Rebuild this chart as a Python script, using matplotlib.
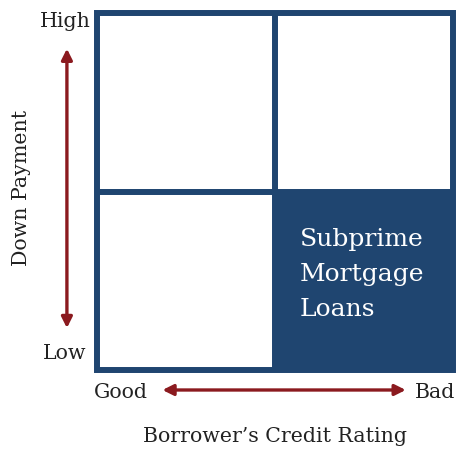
import matplotlib
matplotlib.use("Agg")
import matplotlib.pyplot as plt
from matplotlib.patches import Rectangle

# quadrant data
col_labels = ["Good", "Bad"]
row_labels = ["Low", "High"]
x_title = "Borrower\u2019s Credit Rating"
y_title = "Down Payment"
highlight_cell = (1, 0)  # (column, row)
highlight_text = "Subprime\nMortgage\nLoans"

blue = "#1f4570"
red = "#8b1a1f"
ink = "#222222"
plt.rcParams["font.family"] = ["DejaVu Serif"]

fig = plt.figure(figsize=(4.59, 4.51), dpi=100)
# axes box in figure fraction (line centres of the outer border)
ax = fig.add_axes([96.5 / 459, 1 - 370 / 451, 356.5 / 459, 357 / 451])
ax.set_xlim(0, len(col_labels))
ax.set_ylim(0, len(row_labels))
ax.axis("off")

lw = 4.3
cx, cy = highlight_cell
ax.add_patch(Rectangle((cx, cy), 1, 1, facecolor=blue, edgecolor="none"))
ax.add_patch(Rectangle((0, 0), len(col_labels), len(row_labels), fill=False,
                       edgecolor=blue, linewidth=lw, clip_on=False))
for i in range(1, len(col_labels)):
    ax.plot([i, i], [0, len(row_labels)], color=blue, lw=lw, solid_capstyle="butt")
for j in range(1, len(row_labels)):
    ax.plot([0, len(col_labels)], [j, j], color=blue, lw=lw, solid_capstyle="butt")

ax.text(cx + 0.14, cy + 0.535, highlight_text, color="white", fontsize=18,
        ha="left", va="center", linespacing=1.68)

fs = 14.8
# row labels
ax.text(-0.035, 1.95, row_labels[1], ha="right", va="center", fontsize=fs, color=ink)
ax.text(-0.058, 0.09, row_labels[0], ha="right", va="center", fontsize=fs, color=ink)
# column labels
ax.text(0.135, -0.125, col_labels[0], ha="center", va="center", fontsize=fs, color=ink)
ax.text(1.9, -0.125, col_labels[1], ha="center", va="center", fontsize=fs, color=ink)
# axis titles
ax.text(1.0, -0.37, x_title, ha="center", va="center", fontsize=fs, color=ink)
ax.text(-0.42, 1.02, y_title, ha="center", va="center", fontsize=fs,
        color=ink, rotation=90)

arrow = dict(arrowstyle="<|-|>", color=red, lw=2.4, mutation_scale=16,
             shrinkA=0, shrinkB=0)
ax.annotate("", xy=(0.37, -0.112), xytext=(1.735, -0.112), arrowprops=arrow,
            annotation_clip=False)
ax.annotate("", xy=(-0.166, 1.80), xytext=(-0.166, 0.235), arrowprops=arrow,
            annotation_clip=False)

fig.savefig("out.png", dpi=100)
